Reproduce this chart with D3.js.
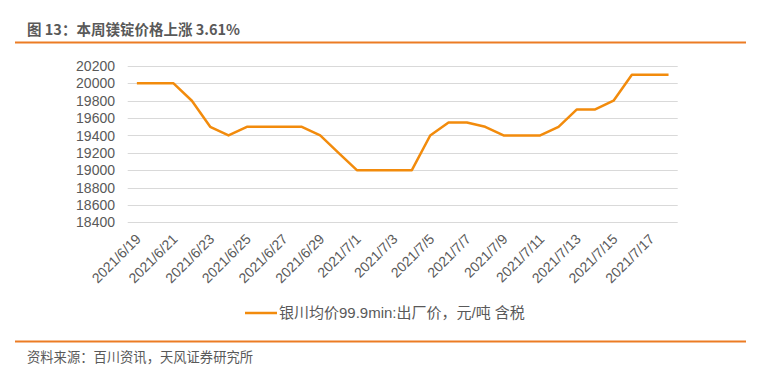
<!DOCTYPE html>
<html>
<head>
<meta charset="utf-8">
<script src="https://cdn.jsdelivr.net/npm/d3@7"></script>
<style>
body { margin: 0; background: #fff; }
svg { display: block; }
</style>
</head>
<body>
<script>
// daily dates, 2021/6/19 .. 2021/7/18
var dates = ['2021/6/19', '2021/6/20', '2021/6/21', '2021/6/22', '2021/6/23', '2021/6/24',
    '2021/6/25', '2021/6/26', '2021/6/27', '2021/6/28', '2021/6/29', '2021/6/30',
    '2021/7/1', '2021/7/2', '2021/7/3', '2021/7/4', '2021/7/5', '2021/7/6',
    '2021/7/7', '2021/7/8', '2021/7/9', '2021/7/10', '2021/7/11', '2021/7/12',
    '2021/7/13', '2021/7/14', '2021/7/15', '2021/7/16', '2021/7/17', '2021/7/18'];
var prices = [20000, 20000, 20000, 19800, 19500, 19400,
    19500, 19500, 19500, 19500, 19400, 19200,
    19000, 19000, 19000, 19000, 19400, 19550,
    19550, 19500, 19400, 19400, 19400, 19500,
    19700, 19700, 19800, 20100, 20100, 20100];
var yTicks = [18400, 18600, 18800, 19000, 19200, 19400, 19600, 19800, 20000, 20200];
var title = '图 13：本周镁锭价格上涨 3.61%';
var seriesName = '银川均价99.9min:出厂价，元/吨 含税';
var source = '资料来源：百川资讯，天风证券研究所';

var orange = '#F28B0C';
var headOrange = '#EC7C24';
var grey = '#595959';
var font = 'Arial, "Liberation Sans", "Noto Sans CJK SC", sans-serif';

const svg = d3.select('body')
    .append('svg')
    .attr('width', 769)
    .attr('height', 392);

// header
svg.append('text')
    .attr('x', 27)
    .attr('y', 35)
    .attr('font-family', '"Noto Sans CJK SC", sans-serif')
    .attr('font-weight', 'bold')
    .attr('font-size', 14.5)
    .attr('fill', grey)
    .text(title);
svg.append('line')
    .attr('x1', 15).attr('x2', 746)
    .attr('y1', 42.5).attr('y2', 42.5)
    .attr('stroke', headOrange)
    .attr('stroke-width', 2.2);

const x = d3.scalePoint()
    .domain(dates)
    .range([127.7, 677.7])
    .padding(0.5);
const y = d3.scaleLinear()
    .domain([18400, 20200])
    .range([222.3, 66]);

// grid
svg.append('g')
    .selectAll('line')
    .data(yTicks)
    .enter()
    .append('line')
    .attr('x1', 127.7).attr('x2', 677.7)
    .attr('y1', d => Math.round(y(d)) + 0.5)
    .attr('y2', d => Math.round(y(d)) + 0.5)
    .attr('stroke', '#D9D9D9')
    .attr('stroke-width', 1.2);

// y labels
svg.append('g')
    .selectAll('text')
    .data(yTicks)
    .enter()
    .append('text')
    .attr('x', 115)
    .attr('y', d => y(d))
    .attr('dy', '0.36em')
    .attr('text-anchor', 'end')
    .attr('font-family', font)
    .attr('font-size', 14)
    .attr('fill', grey)
    .text(d => d);

// x labels, every other day
svg.append('g')
    .selectAll('text')
    .data(dates.filter((d, i) => i % 2 === 0))
    .enter()
    .append('text')
    .attr('transform', d => `translate(${x(d) + 5},${240}) rotate(-45)`)
    .attr('text-anchor', 'end')
    .attr('font-family', font)
    .attr('font-size', 14)
    .attr('fill', grey)
    .text(d => d);

// series line
const line = d3.line()
    .x((d, i) => x(dates[i]))
    .y(d => y(d));
svg.append('path')
    .datum(prices)
    .attr('d', line)
    .attr('fill', 'none')
    .attr('stroke', orange)
    .attr('stroke-width', 2.5)
    .attr('stroke-linejoin', 'round');

// legend
svg.append('line')
    .attr('x1', 245).attr('x2', 277)
    .attr('y1', 313).attr('y2', 313)
    .attr('stroke', orange)
    .attr('stroke-width', 2.5);
svg.append('text')
    .attr('x', 279)
    .attr('y', 313)
    .attr('dy', '0.36em')
    .attr('font-family', font)
    .attr('font-size', 15)
    .attr('fill', grey)
    .text(seriesName);

// footer
svg.append('line')
    .attr('x1', 15).attr('x2', 746)
    .attr('y1', 341.5).attr('y2', 341.5)
    .attr('stroke', headOrange)
    .attr('stroke-width', 2.2);
svg.append('text')
    .attr('x', 27)
    .attr('y', 357)
    .attr('dy', '0.36em')
    .attr('font-family', '"Noto Sans CJK SC", sans-serif')
    .attr('font-size', 13.3)
    .attr('fill', grey)
    .text(source);
</script>
</body>
</html>
